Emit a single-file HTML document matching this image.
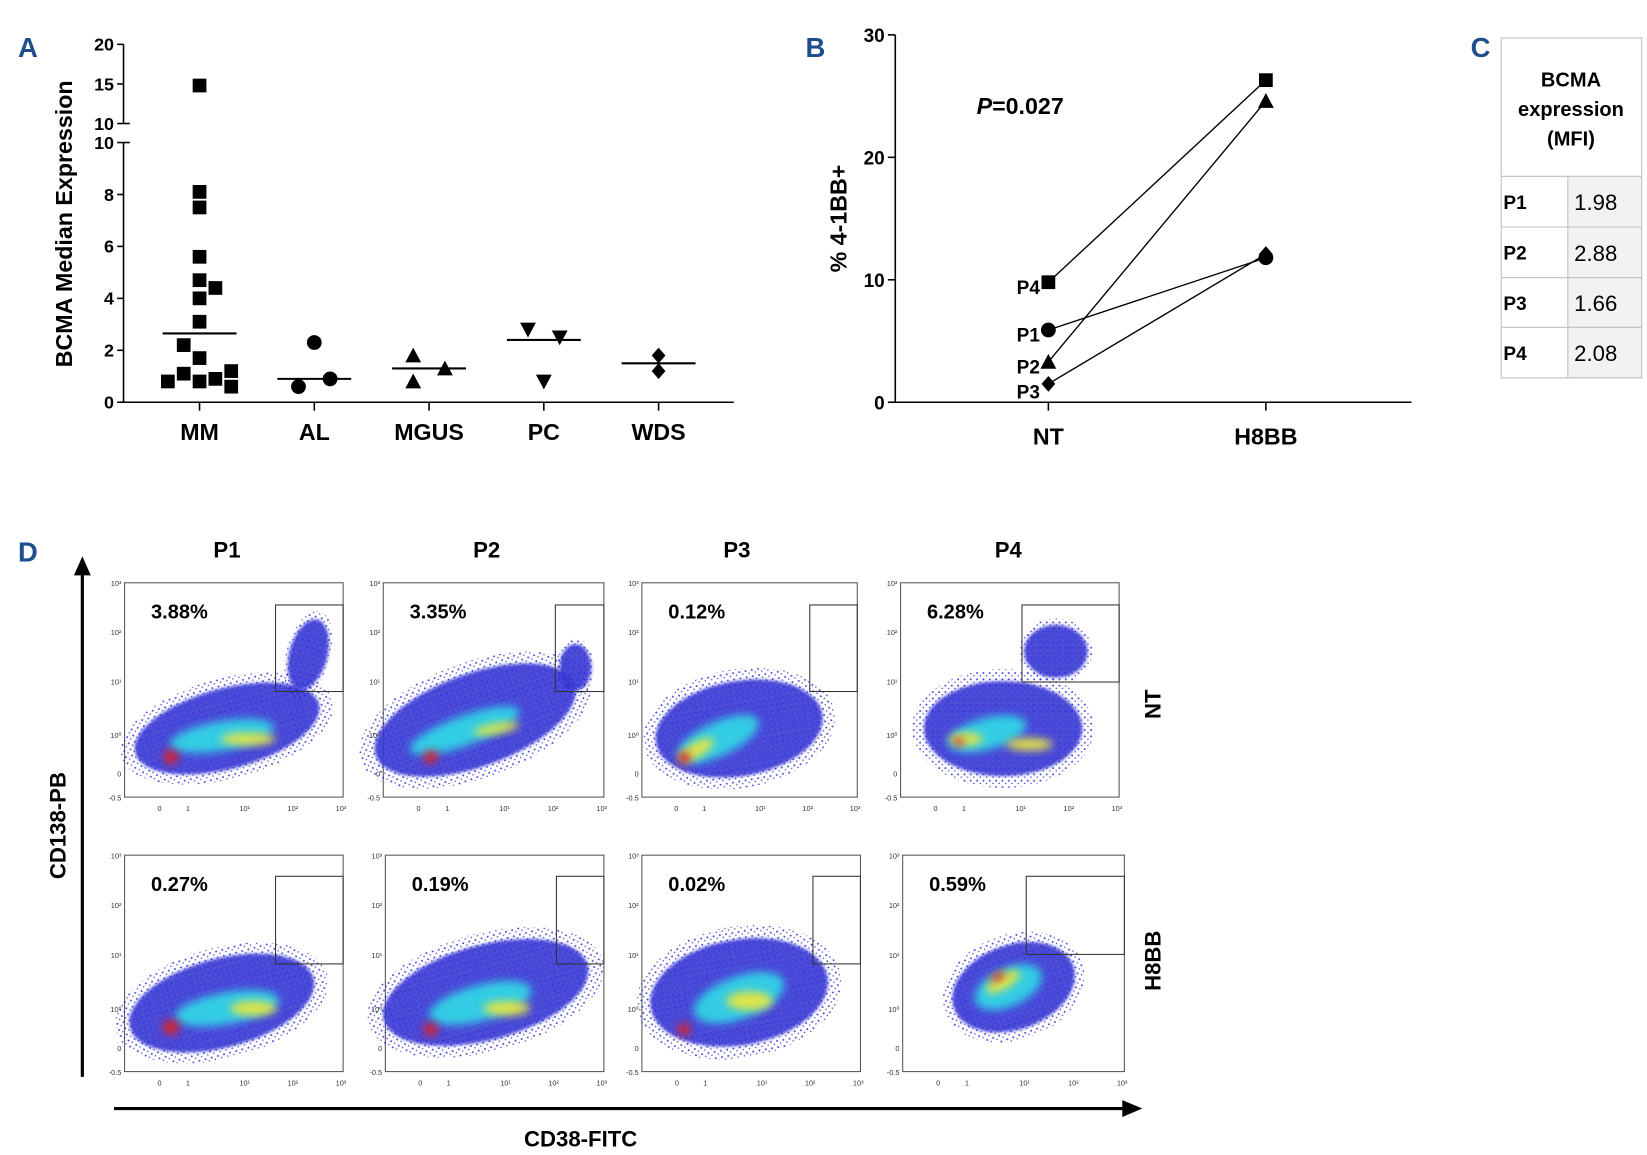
<!DOCTYPE html>
<html><head><meta charset="utf-8">
<style>
html,body{margin:0;padding:0;background:#fff;}
svg{display:block;}
text{font-family:"Liberation Sans",Arial,sans-serif;}
</style></head>
<body>
<svg id="fig" width="1647" height="1155" viewBox="0 0 1560 1094" preserveAspectRatio="none" xmlns="http://www.w3.org/2000/svg">
<defs>
<filter id="bl" x="-50%" y="-50%" width="200%" height="200%"><feGaussianBlur stdDeviation="4"/></filter>
<filter id="bl2" x="-50%" y="-50%" width="200%" height="200%"><feGaussianBlur stdDeviation="1.5"/></filter>
<pattern id="speck" width="5" height="5" patternUnits="userSpaceOnUse"><rect width="5" height="5" fill="#1010d0"/><circle cx="1" cy="1" r="0.8" fill="#fff" opacity="0.7"/><circle cx="3.5" cy="3.5" r="0.6" fill="#fff" opacity="0.6"/></pattern>
<pattern id="sparse" width="6" height="6" patternUnits="userSpaceOnUse"><circle cx="1.5" cy="1.5" r="0.9" fill="#1515d5"/><circle cx="4.5" cy="4" r="0.7" fill="#1515d5"/></pattern>
</defs>
<g id="panelA"></g>
<g id="panelB"></g>
<g id="panelC"></g>
<g id="panelD"></g>
</svg>
<script>
// ---------- Panel A data ----------
const aCategories = ["MM","AL","MGUS","PC","WDS"];
const aMarkers = ["square","circle","triangle","down","diamond"];
const aValues = [
  [14.8,8.1,7.5,5.6,4.7,4.4,4.0,3.1,2.2,1.7,1.1,1.2,0.8,0.8,0.9,0.6],
  [2.3,0.6,0.9],
  [1.8,0.8,1.3],
  [2.8,2.5,0.8],
  [1.8,1.2]
];
const aJitter = [
  [0,0,0,0,0,1,0,0,-1,0,-1,2,-2,0,1,2],
  [0,-1,1],
  [-1,-1,1],
  [-1,1,0],
  [0,0]
];
const aMeans = [2.65,0.9,1.3,2.4,1.5];
const aTicksLow = [0,2,4,6,8,10];
const aTicksHigh = [10,15,20];
// ---------- Panel B data ----------
const bCategories = ["NT","H8BB"];
const bPatients = ["P4","P1","P2","P3"];
const bMarkers = ["square","circle","triangle","diamond"];
const bNT = [9.8,5.9,3.3,1.5];
const bH8BB = [26.3,11.8,24.6,12.1];
const bTicks = [0,10,20,30];
// ---------- Panel C data ----------
const cPatients = ["P1","P2","P3","P4"];
const cMFI = ["1.98","2.88","1.66","2.08"];
// ---------- Panel D data ----------
const dPatients = ["P1","P2","P3","P4"];
const dNT = ["3.88%","3.35%","0.12%","6.28%"];
const dH8BB = ["0.27%","0.19%","0.02%","0.59%"];

const NS="http://www.w3.org/2000/svg";
function el(parent,tag,attrs,txt){const e=document.createElementNS(NS,tag);for(const k in attrs)e.setAttribute(k,attrs[k]);if(txt!==undefined)e.textContent=txt;parent.appendChild(e);return e;}
function marker(g,type,x,y,s){
  let m;
  if(type==="square") m=el(g,"rect",{x:x-s/2,y:y-s/2,width:s,height:s,fill:"#000"});
  else if(type==="circle") m=el(g,"circle",{cx:x,cy:y,r:s/2+0.5,fill:"#000"});
  else if(type==="triangle") m=el(g,"polygon",{points:`${x},${y-s/2-1} ${x-s/2-1},${y+s/2} ${x+s/2+1},${y+s/2}`,fill:"#000"});
  else if(type==="down") m=el(g,"polygon",{points:`${x},${y+s/2+1} ${x-s/2-1},${y-s/2} ${x+s/2+1},${y-s/2}`,fill:"#000"});
  else m=el(g,"polygon",{points:`${x},${y-s/2-1} ${x+s/2},${y} ${x},${y+s/2+1} ${x-s/2},${y}`,fill:"#000"});
  return m;
}

// ---------- Panel A ----------
(function(){
  const g=document.getElementById("panelA");
  const ax=117, x1=695;
  const yA=v=> v<=10 ? 381-v*24.6 : 117-(v-10)*7.5;
  const xA=i=>189+i*108.7;
  const lab=el(g,"text",{x:17,y:54,"font-size":26,"font-weight":"bold",fill:"#1f4e8c"},"A");
  
  
  const yt=el(g,"text",{x:0,y:0,"font-size":22,"font-weight":"bold",transform:"translate(68,212) rotate(-90)","text-anchor":"middle"},"BCMA Median Expression");
  
  
  el(g,"line",{x1:ax,y1:yA(0),x2:ax,y2:135,stroke:"#000","stroke-width":1.5});
  el(g,"line",{x1:ax,y1:117,x2:ax,y2:yA(20),stroke:"#000","stroke-width":1.5});
  aTicksLow.forEach(t=>{const y=yA(t);el(g,"line",{x1:ax-6,y1:y,x2:ax,y2:y,stroke:"#000","stroke-width":1.5});
    const tx=el(g,"text",{x:ax-9,y:y+6,"font-size":17,"font-weight":"bold","text-anchor":"end"},t);
    
    });
  aTicksHigh.forEach(t=>{const y= t===10?117:yA(t);el(g,"line",{x1:ax-6,y1:y,x2:ax,y2:y,stroke:"#000","stroke-width":1.5});
    const tx=el(g,"text",{x:ax-9,y:y+6,"font-size":17,"font-weight":"bold","text-anchor":"end"},t);
    
    });
  el(g,"line",{x1:ax,y1:117,x2:ax+6,y2:117,stroke:"#000","stroke-width":1.5});
  el(g,"line",{x1:ax,y1:135,x2:ax+6,y2:135,stroke:"#000","stroke-width":1.5});
  el(g,"line",{x1:ax,y1:381,x2:x1,y2:381,stroke:"#000","stroke-width":1.5});
  aCategories.forEach((c,i)=>{
    const x=xA(i);
    el(g,"line",{x1:x,y1:381,x2:x,y2:389,stroke:"#000","stroke-width":1.5});
    const t=el(g,"text",{x:x,y:417,"font-size":22,"font-weight":"bold","text-anchor":"middle"},c);
    
    
    aValues[i].forEach((v,j)=>{
      const m=marker(g,aMarkers[i],x+aJitter[i][j]*15,yA(v),13);
      
      
    });
    const ml=el(g,"line",{x1:x-35,y1:yA(aMeans[i]),x2:x+35,y2:yA(aMeans[i]),stroke:"#000","stroke-width":2});
    
    
  });
})();

// ---------- Panel B ----------
(function(){
  const g=document.getElementById("panelB");
  const ax=848;
  const yB=v=>381-v*11.6;
  const xB=i=>993+i*206;
  const lab=el(g,"text",{x:763,y:54,"font-size":26,"font-weight":"bold",fill:"#1f4e8c"},"B");
  
  
  const yt=el(g,"text",{x:0,y:0,"font-size":22,"font-weight":"bold",transform:"translate(802,207) rotate(-90)","text-anchor":"middle"},"% 4-1BB+");
  
  
  el(g,"line",{x1:ax,y1:yB(0),x2:ax,y2:yB(30),stroke:"#000","stroke-width":1.5});
  el(g,"line",{x1:ax,y1:381,x2:1337,y2:381,stroke:"#000","stroke-width":1.5});
  bTicks.forEach(t=>{const y=yB(t);el(g,"line",{x1:ax-7,y1:y,x2:ax,y2:y,stroke:"#000","stroke-width":1.5});
    const tx=el(g,"text",{x:ax-10,y:y+7,"font-size":18,"font-weight":"bold","text-anchor":"end"},t);
    
    });
  bCategories.forEach((c,i)=>{const x=xB(i);
    el(g,"line",{x1:x,y1:381,x2:x,y2:389,stroke:"#000","stroke-width":1.5});
    const t=el(g,"text",{x:x,y:421,"font-size":22,"font-weight":"bold","text-anchor":"middle"},c);
    
    });
  const pt=el(g,"text",{x:925,y:108,"font-size":22,"font-weight":"bold"});
  
  
  el(pt,"tspan",{"font-style":"italic"},"P");
  el(pt,"tspan",{},"=0.027");
  bPatients.forEach((p,i)=>{
    const l=el(g,"line",{x1:xB(0),y1:yB(bNT[i]),x2:xB(1),y2:yB(bH8BB[i]),stroke:"#000","stroke-width":1.3});
    
    
    const m1=marker(g,bMarkers[i],xB(0),yB(bNT[i]),13);
    
    
    const m2=marker(g,bMarkers[i],xB(1),yB(bH8BB[i]),13);
    
    
    const t=el(g,"text",{x:xB(0)-8,y:yB(bNT[i])+ (p==="P3"?14:11),"font-size":18,"font-weight":"bold","text-anchor":"end"},p);
    
    
  });
})();

// ---------- Panel C ----------
(function(){
  const g=document.getElementById("panelC");
  const lab=el(g,"text",{x:1393,y:54,"font-size":26,"font-weight":"bold",fill:"#1f4e8c"},"C");
  
  
  const L=1422,R=1555,D=1485,rows=[167,215,263,310,358];
  el(g,"rect",{x:D,y:167,width:R-D,height:191,fill:"#f2f2f2"});
  el(g,"rect",{x:L,y:36,width:R-L,height:322,fill:"none",stroke:"#bfbfbf","stroke-width":1});
  rows.forEach(y=>el(g,"line",{x1:L,y1:y,x2:R,y2:y,stroke:"#bfbfbf","stroke-width":1}));
  el(g,"line",{x1:D,y1:167,x2:D,y2:358,stroke:"#bfbfbf","stroke-width":1});
  ["BCMA","expression","(MFI)"].forEach((s,i)=>{const t=el(g,"text",{x:1488,y:82+i*28,"font-size":19,"font-weight":"bold","text-anchor":"middle"},s);
    
    });
  cPatients.forEach((p,i)=>{const y=(rows[i]+rows[i+1])/2+7;
    const a=el(g,"text",{x:L+2,y:y,"font-size":18,"font-weight":"bold"},p);
    
    
    const b=el(g,"text",{x:D+6,y:y+1,"font-size":21},cMFI[i]);
    
    });
})();

// ---------- Panel D ----------
const blobsNT=[
 [[215,690,90,38,-15,"b"],[292,620,18,34,15,"b"],[210,697,50,14,-10,"c"],[235,700,26,6,0,"y"],[162,717,7,7,0,"r"]],
 [[450,682,100,44,-20,"b"],[545,632,15,22,0,"b"],[440,692,55,14,-20,"c"],[470,690,22,5,-10,"y"],[408,717,7,6,0,"r"]],
 [[700,690,80,45,-10,"b"],[680,700,42,16,-25,"c"],[660,710,18,7,-30,"y"],[648,718,6,6,0,"r"]],
 [[950,690,75,45,0,"b"],[1000,617,30,25,0,"b"],[935,695,38,15,-15,"c"],[975,705,22,6,0,"y"],[915,700,16,6,0,"y"],[908,703,5,4,0,"r"]]
];
const blobsH=[
 [[210,950,90,42,-15,"b"],[215,955,50,15,-10,"c"],[240,955,22,7,0,"y"],[162,973,8,7,0,"r"]],
 [[460,940,100,45,-15,"b"],[455,950,50,17,-15,"c"],[480,955,22,7,0,"y"],[408,975,7,6,0,"r"]],
 [[700,940,85,50,-10,"b"],[700,945,45,20,-20,"c"],[710,948,22,9,0,"y"],[648,975,6,6,0,"r"]],
 [[960,935,60,40,-20,"b"],[955,935,34,18,-25,"c"],[950,930,18,7,-30,"y"],[945,925,7,4,-30,"r"]]
];
const colors={b:"#1010d0",c:"#33d4e6",y:"#e6e640",r:"#e02020"};
(function(){
  const g=document.getElementById("panelD");
  const lab=el(g,"text",{x:17,y:532,"font-size":26,"font-weight":"bold",fill:"#1f4e8c"},"D");
  
  
  el(g,"line",{x1:78,y1:1020,x2:78,y2:540,stroke:"#000","stroke-width":3});
  el(g,"polygon",{points:"78,527 70,545 86,545",fill:"#000"});
  el(g,"line",{x1:108,y1:1050,x2:1065,y2:1050,stroke:"#000","stroke-width":3});
  el(g,"polygon",{points:"1082,1050 1063,1042 1063,1058",fill:"#000"});
  const yl=el(g,"text",{x:0,y:0,"font-size":21,"font-weight":"bold",transform:"translate(62,782) rotate(-90)","text-anchor":"middle"},"CD138-PB");
  
  
  const xl=el(g,"text",{x:550,y:1086,"font-size":21,"font-weight":"bold","text-anchor":"middle"},"CD38-FITC");
  
  
  const titleX=[215,461,698,955];
  dPatients.forEach((p,i)=>{const t=el(g,"text",{x:titleX[i],y:528,"font-size":21,"font-weight":"bold","text-anchor":"middle"},p);
    
    });
  const r1=el(g,"text",{x:0,y:0,"font-size":21,"font-weight":"bold",transform:"translate(1099,667) rotate(-90)","text-anchor":"middle"},"NT");
  
  
  const r2=el(g,"text",{x:0,y:0,"font-size":21,"font-weight":"bold",transform:"translate(1099,910) rotate(-90)","text-anchor":"middle"},"H8BB");
  
  
  const boxes1=[[118,325],[363,572],[608,812],[853,1060]];
  const boxes2=[[118,325],[365,572],[608,815],[855,1065]];
  const gates1=[[261,573,325,655],[526,573,572,655],[767,573,812,655],[968,573,1060,646]];
  const gates2=[[261,830,325,913],[527,830,572,913],[770,830,815,913],[972,830,1065,904]];
  function plot(bx,top,bot,blobs,gate,pct,name){
    const pg=el(g,"g",{});
    
    
    const [L,R]=bx;
    el(pg,"rect",{x:L,y:top,width:R-L,height:bot-top,fill:"#fff",stroke:"#555","stroke-width":1});
    const inner=el(pg,"g",{});
    blobs.forEach(b=>{
      const [cx,cy,rx,ry,rot,c]=b;
      if(c==="b"){
        el(inner,"ellipse",{cx,cy,rx:rx*1.15,ry:ry*1.25,fill:"url(#sparse)",opacity:0.8,transform:`rotate(${rot} ${cx} ${cy})`});
        el(inner,"ellipse",{cx,cy,rx,ry,fill:"url(#speck)",opacity:0.9,filter:"url(#bl2)",transform:`rotate(${rot} ${cx} ${cy})`});
      } else {
        el(inner,"ellipse",{cx,cy,rx,ry,fill:colors[c],opacity:0.95,filter:"url(#bl)",transform:`rotate(${rot} ${cx} ${cy})`});
      }
    });
    el(pg,"rect",{x:gate[0],y:gate[1],width:gate[2]-gate[0],height:gate[3]-gate[1],fill:"none",stroke:"#333","stroke-width":1});
    const t=el(pg,"text",{x:L+25,y:top+34,"font-size":19,"font-weight":"bold"},pct);
    
    
    const h=bot-top;
    const yt=[["10³",0],["10²",0.23],["10¹",0.46],["10⁰",0.71],["0",0.89],["-0.5",1]];
    yt.forEach(([s,f])=>{el(pg,"text",{x:L-3,y:top+f*h+3,"font-size":7,"text-anchor":"end",fill:"#333"},s);});
    const w=R-L;
    const xt=[["0",0.16],["1",0.29],["10¹",0.55],["10²",0.77],["10³",0.99]];
    xt.forEach(([s,f])=>{el(pg,"text",{x:L+f*w,y:bot+13,"font-size":7,"text-anchor":"middle",fill:"#333"},s);});
  }
  dPatients.forEach((p,i)=>{
    plot(boxes1[i],552,755,blobsNT[i],gates1[i],dNT[i],'flow-plot-nt-'+p.toLowerCase());
    plot(boxes2[i],810,1015,blobsH[i],gates2[i],dH8BB[i],'flow-plot-h8bb-'+p.toLowerCase());
  });
})();
</script>
</body></html>
